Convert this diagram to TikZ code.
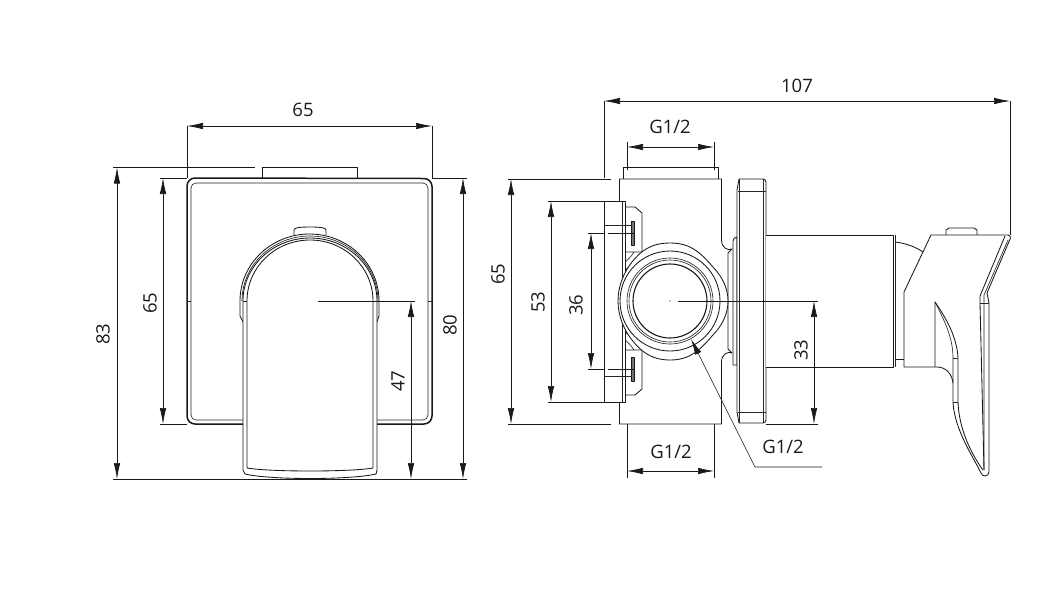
\documentclass[tikz,border=0pt]{standalone}
\usepackage{fontspec}
\setmainfont{Open Sans}
\usetikzlibrary{arrows.meta}
\tikzset{
	partline/.style={line width=.85pt,black!90,line join=round},
	thinline/.style={line width=.65pt,black!85},
	heavyline/.style={line width=1.5pt,black!90},
	extline/.style={line width=.65pt,black!90},
	dimline/.style={line width=.65pt,black!90,{Latex[length=16pt,width=6.5pt]}-{Latex[length=16pt,width=6.5pt]}},
	dimlabel/.style={font=\fontsize{18.5}{18.5}\selectfont,text=black!90,inner sep=0pt},
	dimlabelv/.style={dimlabel,rotate=90}
}
\begin{document}
\begin{tikzpicture}[x=1pt,y=-1pt]
	\useasboundingbox (0,0) rectangle (1047,614);
	% front view
	\draw[partline] (262,178) -- (262,167) -- (357,167) -- (357,178);
	\draw[heavyline] (243,424) -- (195,424) arc (90:180:8) -- (187,186) arc (180:270:8) -- (424,178.5) arc (270:360:8) -- (432,416) arc (0:90:8) -- (376,424);
	\draw[thinline] (243,420) -- (196,420) arc (90:180:5) -- (191,188) arc (180:270:5) -- (423,183) arc (270:360:5) -- (428,415) arc (0:90:5) -- (376,420);
	\draw[thinline] (187,301) -- (191,301) (428,301) -- (432,301);
	\draw[partline,fill=white] (294,235) -- (294,230) .. controls (294,228) and (298,227) .. (310,227) .. controls (322,227) and (326,228) .. (326,230) -- (326,235);
	\draw[partline] (243,322) -- (240,316) -- (240,301) arc (180:360:69.5 and 67) -- (379,316) -- (377,322);
	\draw[thinline] (242,301) arc (180:360:68 and 65);
	\draw[partline,fill=white] (243,470) -- (243,301) arc (180:360:67 and 63) -- (377,470) -- (376,474) .. controls (350,480) and (270,480) .. (245,474) -- cycle;
	\draw[partline] (247,301) arc (180:360:63 and 61);
	\draw[partline] (247,301) -- (247,468) .. controls (270,472) and (350,472) .. (373,468) -- (373,301);
	\draw[thinline] (243,301) -- (247,301) (373,301) -- (377,301);
	% side view
	\draw[partline,fill=white] (623,179) -- (623,167) -- (718,167) -- (718,179);
	\draw[partline] (619.5,424) -- (619.5,179) -- (721.5,179) -- (721.5,240) .. controls (721.5,248) and (728,251) .. (732,249) -- (728,253) -- (728,349) -- (732,353) .. controls (728,351) and (721.5,354) .. (721.5,362) -- (721.5,424) -- cycle;
	\draw[partline,fill=white] (733,365) -- (733,241) arc (180:270:4) -- (737,365) -- cycle;
	\draw[partline,fill=white] (737,190) -- (739,179) -- (763,179) arc (270:360:3) -- (766,420) arc (0:90:3) -- (739,423) -- (737,412) -- cycle;
	\draw[thinline] (739,179) -- (739,423) (763,179) -- (763,423) (738,191) -- (766,191) (738,412) -- (766,412);
	\draw[partline,fill=white] (625,207) -- (635,207) -- (642,213) -- (642,258) -- (625,270) -- cycle;
	\draw[partline,fill=white] (625,395) -- (635,395) -- (642,389) -- (642,344) -- (625,332) -- cycle;
	\draw[thinline] (625,252) -- (642,252) (625,350) -- (642,350) (625,262) .. controls (630,258) and (632,255) .. (634,252) (625,340) .. controls (630,344) and (632,347) .. (634,350);
	\draw[partline,fill=black!55] (631,221) rectangle (634,245);
	\draw[partline,fill=black!55] (631,357) rectangle (634,381);
	\draw[partline,fill=white] (604.5,201) rectangle (625,402);
	\draw[thinline] (622,201) -- (622,402) (604.5,225) -- (632,225) (604.5,376) -- (632,376);
	\draw[partline,fill=white] (670,243) .. controls (690,243) and (700,252) .. (712,266) .. controls (722,276) and (728,288) .. (728,301) .. controls (728,314) and (722,326) .. (712,336) .. controls (700,350) and (690,360) .. (670,360) .. controls (650,360) and (640,350) .. (632,340) .. controls (624,330) and (618,316) .. (618,301) .. controls (618,286) and (624,272) .. (632,262) .. controls (640,252) and (650,243) .. (670,243) -- cycle;
	\draw[partline] (670,301) circle (50);
	\draw[thinline] (670,301) circle (43);
	\draw[thinline] (670,301) circle (41);
	\draw[heavyline,line width=1.1pt] (670,301) circle (37);
	\fill[black!85] (670,301) circle (.6);
	% lever
	\draw[partline] (895,242) .. controls (905,243) and (916,247) .. (923,252);
	\draw[partline] (895,359) -- (904,359);
	\draw[partline,fill=white] (766,235) -- (893,235) -- (893,367) -- (766,367);
	\draw[thinline] (895,235) -- (895,367);
	\draw[partline,fill=white] (946,235) -- (946,230) -- (949,228) -- (974,228) -- (977,230) -- (977,235);
	\draw[partline] (904,367) -- (904,292) -- (931,235) -- (1008,235) arc (270:380:2.5) -- (987,293) -- (989,303) -- (989,472) arc (0:160:4) .. controls (972,455) and (955,430) .. (953,403) -- (953,383) .. controls (952,374) and (946,367) .. (937,367) -- cycle;
	\draw[partline] (1005,236) -- (980,296) -- (980,303) -- (984,470);
	\draw[thinline] (1008,240) -- (984,295) -- (984,470);
	\draw[thinline] (980,303) -- (989,303) (953,402) -- (958,402);
	\draw[partline] (935,367) -- (935,302) .. controls (946,318) and (957,337) .. (958,358) -- (958,402) .. controls (959,430) and (972,455) .. (983,470);
	\draw[thinline] (935,302) .. controls (944,320) and (953,337) .. (953,358) -- (953,383);
	\draw[thinline] (953,358) -- (958,358);
	% dimensions front
	\draw[extline] (187,126) -- (187,178) (432,126) -- (432,178);
	\draw[dimline] (187,126) -- (432,126);
	\node[dimlabel] (widthfront) at (303,110) {65};
	\draw[extline] (113,167.5) -- (255,167.5) (113,479) -- (467,479);
	\draw[dimline] (117,167.5) -- (117,479);
	\node[dimlabelv] (heightall) at (103,334) {83};
	\draw[extline] (160,178) -- (187,178) (160,424) -- (187,424) (432,178) -- (467,178);
	\draw[dimline] (163,178) -- (163,424);
	\node[dimlabelv] (heightfront) at (150,303) {65};
	\draw[dimline] (463,178) -- (463,479);
	\node[dimlabelv] (heightlower) at (450,325) {80};
	\draw[extline] (318,301) -- (415,301);
	\draw[dimline] (411,301) -- (411,479);
	\node[dimlabelv] (heightaxis) at (398,381) {47};
	% dimensions side
	\draw[extline] (604,101) -- (604,178) (1010,101) -- (1010,235);
	\draw[dimline] (604,101) -- (1010,101);
	\node[dimlabel] (depthall) at (797,86) {107};
	\draw[extline] (627,142) -- (627,170) (714,142) -- (714,170);
	\draw[dimline] (627,147) -- (714,147);
	\node[dimlabel] (threadtop) at (670,127) {G1/2};
	\draw[extline] (508,179) -- (611,179) (508,424) -- (611,424);
	\draw[dimline] (511,179) -- (511,424);
	\node[dimlabelv] (heightside) at (498,274) {65};
	\draw[extline] (548,201) -- (604,201) (548,402) -- (604,402);
	\draw[dimline] (551,201) -- (551,402);
	\node[dimlabelv] (plateheight) at (538,302) {53};
	\draw[extline] (588,233) -- (604,233) (608,233) -- (635,233) (588,369) -- (604,369) (608,369) -- (635,369);
	\draw[dimline] (591,233) -- (591,369);
	\node[dimlabelv] (holespace) at (576,305) {36};
	\draw[extline] (678,301) -- (818,301) (766,424) -- (818,424);
	\draw[dimline] (814,301) -- (814,424);
	\node[dimlabelv] (axisheight) at (801,350) {33};
	\draw[extline] (627,424) -- (627,478) (714,424) -- (714,478);
	\draw[dimline] (627,471) -- (714,471);
	\node[dimlabel] (threadlow) at (671,452) {G1/2};
	\node[dimlabel] (threadmid) at (783,447) {G1/2};
	\coordinate (leadertip) at (691,339);
	\coordinate (leaderknee) at (755,467);
	\coordinate (leaderend) at (822,467);
	\draw[extline,{Latex[length=16pt,width=6.5pt]}-] (leadertip) -- (leaderknee) -- (leaderend);
\end{tikzpicture}
\end{document}
